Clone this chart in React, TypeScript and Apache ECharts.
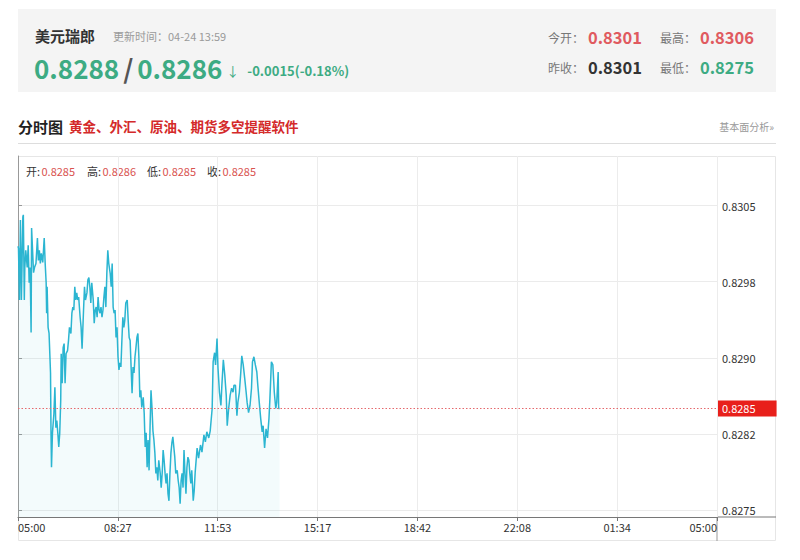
import React, { useEffect, useRef } from "react";
import * as echarts from "echarts";

const FONT = '"Noto Sans CJK SC", "Noto Sans", sans-serif';

// x axis: minutes after 05:00, one trading day
const sessionMinutes = 1440;
const xTickLabels = ["05:00", "08:27", "11:53", "15:17", "18:42", "22:08", "01:34", "05:00"];

// y axis
const yMin = 0.82743;
const yMax = 0.83099;
const yTicks = [0.8275, 0.82825, 0.829, 0.82975, 0.8305];
const yTickLabels = ["0.8275", "0.8282", "0.8290", "0.8298", "0.8305"];

const lastPrice = 0.8285;
const lastPriceLabel = "0.8285";

// header quotes
const quoteName = "美元瑞郎";
const updateTime = "更新时间：04-24 13:59";
const bidPrice = "0.8288";
const askPrice = "0.8286";
const changeText = "-0.0015(-0.18%)";
const statKeys = ["今开：", "最高：", "昨收：", "最低："];
const statValues = ["0.8301", "0.8306", "0.8301", "0.8275"];

const ohlcKeys = ["开:", "高:", "低:", "收:"];
const ohlcValues = ["0.8285", "0.8286", "0.8285", "0.8285"];

// intraday series: minute offset from 05:00 and price
const minutes = [
  0, 1, 3, 5, 7, 10, 11, 13, 14, 16,
  19, 21, 23, 25, 27, 28, 30, 32, 34, 37,
  40, 42, 44, 46, 48, 51, 54, 56, 58, 59,
  60, 62, 64, 67, 68, 69, 71, 74, 76, 78,
  80, 82, 84, 86, 88, 89, 91, 93, 95, 97,
  99, 102, 104, 106, 109, 111, 113, 115, 117, 119,
  121, 123, 125, 128, 130, 132, 135, 137, 139, 142,
  144, 146, 148, 150, 152, 155, 157, 159, 161, 163,
  165, 167, 169, 171, 173, 175,
  177, 179, 181, 183, 185, 187, 190, 192, 194, 196,
  198, 200, 202, 204, 206, 208, 210, 212, 214, 216,
  218, 220, 222, 225, 227, 229, 231, 233, 235, 237,
  239, 241, 243, 245, 247, 249, 251, 253, 255, 258,
  260, 262, 264, 266, 268, 270, 272, 274, 276, 278,
  280, 282, 284, 286, 288, 290, 293, 295, 297, 299,
  301, 303, 305, 307, 309, 311, 313, 315, 317, 319,
  321, 323, 325, 328, 330, 332, 334, 336, 338, 340,
  342, 344, 346, 348, 350, 352, 354, 356, 358, 361,
  363,
  365, 369, 372, 376, 379, 383, 386, 389, 393, 396,
  400, 402, 405, 407, 410, 412, 415, 418, 420, 423,
  426, 429, 431, 434, 437, 440, 443, 445, 448, 451,
  453, 456, 459, 461, 464, 467, 470, 472, 475, 478,
  481, 483, 486, 489, 492, 494, 497, 500, 503, 505,
  508, 511, 514, 517, 519, 522, 525, 528, 531, 533,
  536, 537, 539,
];

const prices = [
  0.8301, 0.83008, 0.82957, 0.83036, 0.82957, 0.83039, 0.83041, 0.82957, 0.82989, 0.83006,
  0.82989, 0.83011, 0.82974, 0.82989, 0.82925, 0.83028, 0.83006, 0.82984, 0.82989, 0.82993,
  0.83018, 0.82996, 0.83006, 0.82993, 0.83003, 0.82994, 0.83018, 0.82993, 0.82974, 0.82944,
  0.8297, 0.8293, 0.82924, 0.82885, 0.82826, 0.82792, 0.82826, 0.82845, 0.82871, 0.82831,
  0.82838, 0.82826, 0.82812, 0.82826, 0.82858, 0.82904, 0.82875, 0.8291, 0.82914, 0.82875,
  0.82904, 0.82907, 0.82917, 0.8293, 0.82924, 0.82944, 0.8295, 0.82947, 0.8297, 0.82957,
  0.82964, 0.82957, 0.8296, 0.8294, 0.8293, 0.82909, 0.82947, 0.8297, 0.82957, 0.82964,
  0.82977, 0.82979, 0.8297, 0.82954, 0.82974, 0.82957, 0.82934, 0.82947, 0.8295, 0.8294,
  0.8296, 0.82947, 0.82944, 0.8295, 0.8294, 0.82947,
  0.8296, 0.8297, 0.8295, 0.82983, 0.83006, 0.82993, 0.82983, 0.8297, 0.82993, 0.8295,
  0.82944, 0.82947, 0.8292, 0.8293, 0.82901, 0.82888, 0.82895, 0.82891, 0.82917, 0.8294,
  0.8293, 0.82937, 0.82954, 0.82957, 0.82937, 0.8292, 0.82917, 0.82891, 0.82865, 0.82891,
  0.82885, 0.82901, 0.8291, 0.8292, 0.82924, 0.82901, 0.82861, 0.82868, 0.82851, 0.82861,
  0.82845, 0.82812, 0.82826, 0.82792, 0.82819, 0.82789, 0.82831, 0.82868, 0.82851, 0.82828,
  0.82819, 0.82806, 0.82786, 0.82792, 0.82779, 0.82799, 0.82786, 0.82772, 0.82786, 0.82809,
  0.82799, 0.82786, 0.82776, 0.82786, 0.82766, 0.82759, 0.82786, 0.82806, 0.82816, 0.82822,
  0.82812, 0.82802, 0.82786, 0.82789, 0.82779, 0.82772, 0.82756, 0.82779, 0.82786, 0.82772,
  0.82809, 0.82786, 0.82766, 0.82792, 0.82802, 0.82799, 0.82786, 0.82776, 0.82789, 0.82759,
  0.82769,
  0.82787, 0.82811, 0.82801, 0.82814, 0.82807, 0.82824, 0.82817, 0.82827, 0.82821, 0.82828,
  0.8285, 0.82896, 0.82905, 0.82893, 0.82919, 0.8289, 0.82866, 0.82853, 0.82873, 0.82898,
  0.82883, 0.82863, 0.82833, 0.8285, 0.82863, 0.8287, 0.82866, 0.82873, 0.82873, 0.82843,
  0.82856, 0.82866, 0.82886, 0.82902, 0.82893, 0.8288, 0.82866, 0.82856, 0.82846, 0.82853,
  0.8287, 0.82896, 0.82901, 0.82893, 0.82886, 0.82873, 0.82856, 0.8284, 0.82827, 0.82833,
  0.82811, 0.8283, 0.82821, 0.8284, 0.8286, 0.82896, 0.82893, 0.82866, 0.8285, 0.82856,
  0.82886, 0.8285, 0.8285,
];

const GREEN = "#3dab83";
const RED = "#e05a5f";

export default function App() {
  const ref = useRef<HTMLDivElement>(null);

  useEffect(() => {
    if (!ref.current) return;
    const chart = echarts.init(ref.current, null, { renderer: "svg" });
    const data = minutes.map((m, i) => [m, prices[i]]);
    const xStep = sessionMinutes / 7;

    const statX = [548, 660, 548, 660];
    const statY = [37, 37, 67, 67];
    const statColors = [RED, RED, "#333333", GREEN];
    const ohlcX = [26, 87, 147, 207];

    const graphic: any[] = [
      { type: "rect", shape: { x: 18, y: 9, width: 758, height: 83 }, style: { fill: "#f4f4f4" }, z: 0 },
      { type: "text", x: 35, y: 35, style: { text: quoteName, fill: "#333", fontSize: 15, fontWeight: "bold", fontFamily: FONT, verticalAlign: "middle" } },
      { type: "text", x: 113, y: 36, style: { text: updateTime, fill: "#9a9a9a", fontSize: 11, fontFamily: FONT, verticalAlign: "middle" } },
      {
        type: "text", x: 34, y: 67,
        style: {
          text: `{p|${bidPrice}}{s|/}{p|${askPrice}}{ar|↓}{c|${changeText}}`,
          verticalAlign: "middle",
          fontFamily: FONT,
          rich: {
            p: { fontSize: 26, fontWeight: "bold", fill: GREEN, color: GREEN, fontFamily: FONT },
            s: { fontSize: 26, fontWeight: "bold", fill: "#555", color: "#555", padding: [0, 4, 0, 4], fontFamily: FONT },
            ar: { fontSize: 13, fill: GREEN, color: GREEN, padding: [6, 8, 0, 4], fontFamily: FONT },
            c: { fontSize: 13, fontWeight: "bold", fill: GREEN, color: GREEN, padding: [6, 0, 0, 0], fontFamily: FONT },
          },
        },
      },
      { type: "text", x: 18, y: 126, style: { text: "分时图", fill: "#222", fontSize: 15, fontWeight: "bold", fontFamily: FONT, verticalAlign: "middle" } },
      { type: "text", x: 69, y: 126, style: { text: "黄金、外汇、原油、期货多空提醒软件", fill: "#d42a2a", fontSize: 13.5, fontWeight: "bold", fontFamily: FONT, verticalAlign: "middle" } },
      { type: "text", x: 774, y: 126, style: { text: "基本面分析»", fill: "#999", fontSize: 10, fontFamily: FONT, align: "right", verticalAlign: "middle" } },
      { type: "line", shape: { x1: 18, y1: 143.5, x2: 776, y2: 143.5 }, style: { stroke: "#dddddd", lineWidth: 1 } },
      { type: "rect", shape: { x: 18.5, y: 156.5, width: 757, height: 384 }, style: { fill: "none", stroke: "#e6e6e6", lineWidth: 1 } },
      { type: "line", shape: { x1: 717, y1: 517, x2: 717, y2: 541 }, style: { stroke: "#999", lineWidth: 1 } },
      { type: "line", shape: { x1: 717, y1: 517, x2: 776, y2: 517 }, style: { stroke: "#777", lineWidth: 1 } },
    ];
    statKeys.forEach((k, i) => {
      graphic.push({ type: "text", x: statX[i], y: statY[i], style: { text: k, fill: "#777", fontSize: 12, fontFamily: FONT, verticalAlign: "middle" } });
      graphic.push({ type: "text", x: statX[i] + 40, y: statY[i], style: { text: statValues[i], fill: statColors[i], fontSize: 16.5, fontWeight: "bold", fontFamily: FONT, verticalAlign: "middle" } });
    });
    ohlcKeys.forEach((k, i) => {
      graphic.push({ type: "text", x: ohlcX[i], y: 171, style: { text: k, fill: "#333", fontSize: 11, fontFamily: FONT, verticalAlign: "middle" } });
      graphic.push({ type: "text", x: ohlcX[i] + 15.5, y: 171, style: { text: ohlcValues[i], fill: "#d9534f", fontSize: 11, fontFamily: FONT, verticalAlign: "middle" } });
    });

    chart.setOption({
      animation: false,
      backgroundColor: "#ffffff",
      textStyle: { fontFamily: FONT },
      grid: { left: 18, right: 83, top: 156, bottom: 43, containLabel: false, outerBoundsMode: "none" },
      xAxis: {
        type: "value",
        min: 0,
        max: sessionMinutes,
        interval: xStep,
        axisLine: { show: true, lineStyle: { color: "#777", width: 1 } },
        axisTick: { show: true, length: 4, lineStyle: { color: "#777" } },
        axisLabel: {
          color: "#333",
          fontSize: 11,
          margin: 4,
          alignMinLabel: "left",
          alignMaxLabel: "right",
          formatter: (v: number) => xTickLabels[Math.round(v / xStep)] ?? "",
        },
        splitLine: { show: true, lineStyle: { color: "#ececec", width: 1 } },
      },
      yAxis: {
        type: "value",
        position: "right",
        min: yMin,
        max: yMax,
        axisLine: { show: true, lineStyle: { color: "#999", width: 1 } },
        axisTick: { show: true, inside: false, length: 4, customValues: yTicks, lineStyle: { color: "#999" } },
        axisLabel: {
          customValues: yTicks,
          color: "#333",
          fontSize: 11,
          margin: 5,
          formatter: (v: number) => {
            const i = yTicks.findIndex((t) => Math.abs(t - v) < 1e-7);
            return i >= 0 ? yTickLabels[i] : "";
          },
        },
        splitLine: { show: true, lineStyle: { color: "#ebebeb", width: 1 } },
      },
      series: [
        {
          type: "line",
          data,
          showSymbol: false,
          symbol: "none",
          lineStyle: { color: "#2bb5d1", width: 1.5 },
          itemStyle: { color: "#2bb5d1" },
          areaStyle: { color: "rgba(43,181,209,0.08)", origin: "start" },
          markLine: {
            symbol: "none",
            silent: true,
            precision: 5,
            data: [{ yAxis: lastPrice }],
            lineStyle: { color: "#e5686c", type: [1.5, 2], width: 1 },
            label: {
              show: true,
              position: "end",
              distance: 1,
              formatter: lastPriceLabel,
              color: "#ffffff",
              backgroundColor: "#e8201b",
              padding: [3, 21, 2, 4],
              fontSize: 11,
            },
            emphasis: { disabled: true },
          },
        },
      ],
      graphic,
    });

    return () => chart.dispose();
  }, []);

  return (
    <div
      ref={ref}
      style={{ position: "fixed", left: 0, top: 0, width: 800, height: 560, background: "#fff" }}
    />
  );
}
